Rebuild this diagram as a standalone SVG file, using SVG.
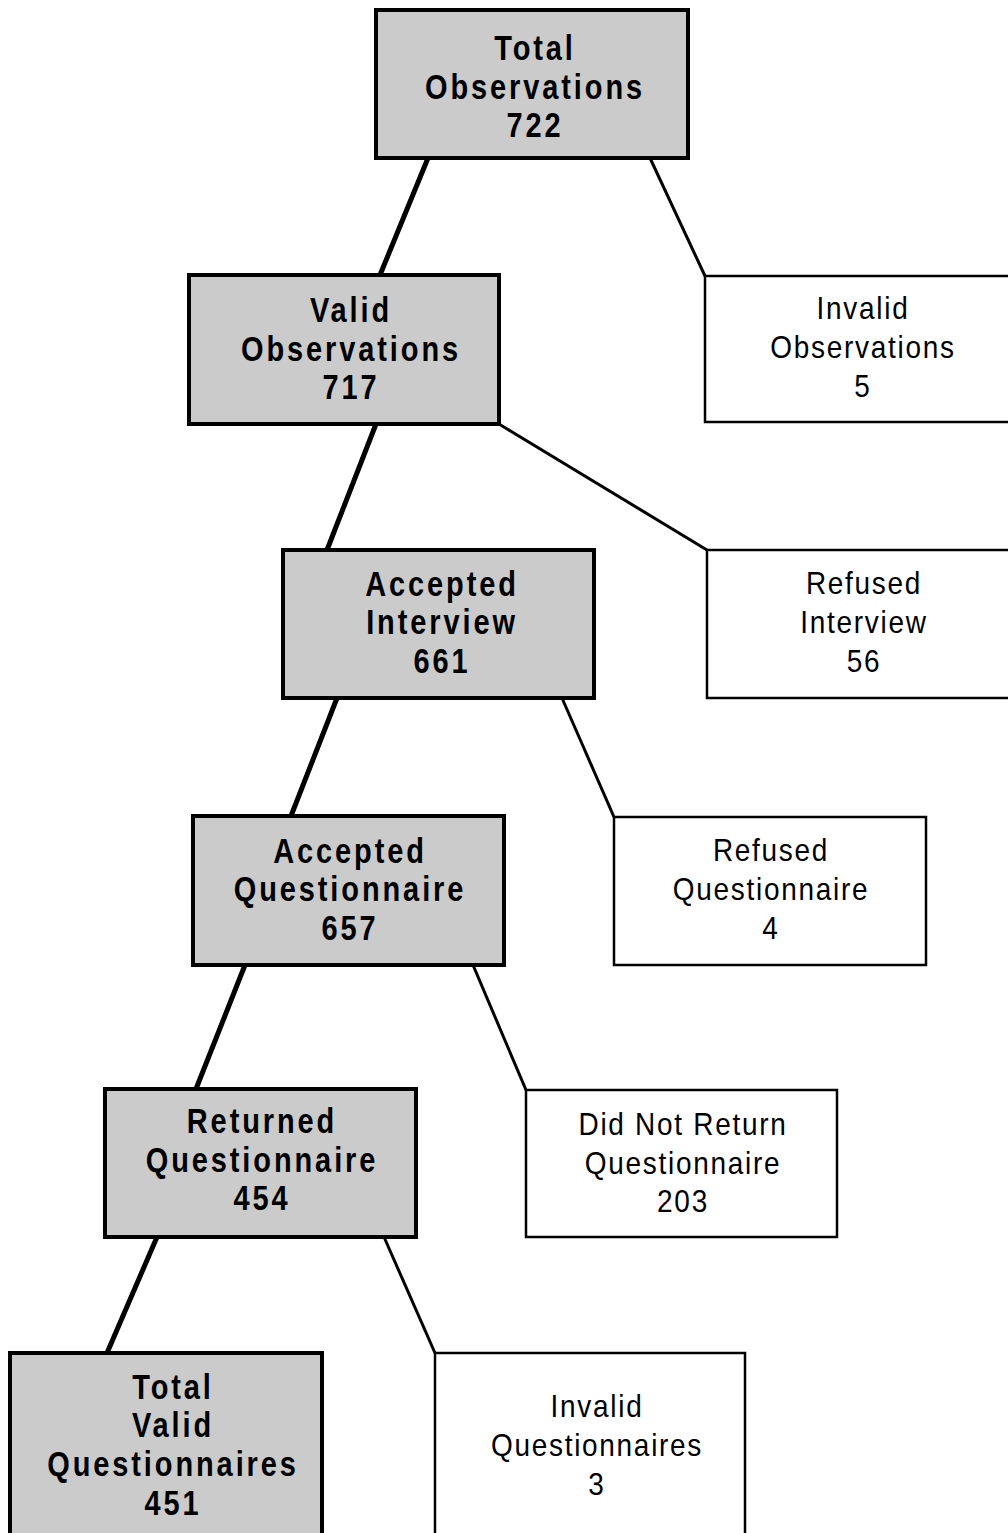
<svg xmlns="http://www.w3.org/2000/svg" width="1008" height="1533" viewBox="0 0 1008 1533">
<style>
.g{fill:#cbcbcb;stroke:#000;stroke-width:4}
.w{fill:#fff;stroke:#000;stroke-width:2.5}
.tb{font-family:"Liberation Sans",Arial,sans-serif;font-weight:bold;font-size:29px;letter-spacing:2.9px;text-anchor:middle;fill:#000}
.tn{font-family:"Liberation Sans",Arial,sans-serif;font-size:28px;letter-spacing:1.7px;text-anchor:middle;fill:#000}
.c1{stroke:#000;stroke-width:5;fill:none}
.c2{stroke:#000;stroke-width:3;fill:none}
</style>
<rect width="1008" height="1533" fill="#fff"/>
<g id="connectors">
<line class="c1" x1="428" y1="158" x2="380" y2="275"/>
<line class="c2" x1="650" y1="158" x2="705" y2="276"/>
<line class="c1" x1="376" y1="424" x2="327" y2="550"/>
<line class="c2" x1="499" y1="424" x2="707" y2="550"/>
<line class="c1" x1="337" y1="698" x2="291" y2="816"/>
<line class="c2" x1="562" y1="698" x2="614" y2="817"/>
<line class="c1" x1="245" y1="965" x2="196" y2="1089"/>
<line class="c2" x1="473" y1="965" x2="526" y2="1090"/>
<line class="c1" x1="157" y1="1237" x2="107" y2="1353"/>
<line class="c2" x1="384" y1="1237" x2="435" y2="1353"/>
</g>
<g id="total-observations">
<rect class="g" x="376" y="10" width="312" height="148"/>
<text class="tb" transform="translate(535,60) scale(1,1.18)">Total</text>
<text class="tb" transform="translate(535,99) scale(1,1.18)">Observations</text>
<text class="tb" transform="translate(535,137) scale(1,1.18)">722</text>
</g>
<g id="valid-observations">
<rect class="g" x="189" y="275" width="310" height="149"/>
<text class="tb" transform="translate(351,322) scale(1,1.18)">Valid</text>
<text class="tb" transform="translate(351,361) scale(1,1.18)">Observations</text>
<text class="tb" transform="translate(351,399) scale(1,1.18)">717</text>
</g>
<g id="invalid-observations">
<rect class="w" x="705" y="276" width="320" height="146"/>
<text class="tn" transform="translate(863,319) scale(1,1.12)">Invalid</text>
<text class="tn" transform="translate(863,358) scale(1,1.12)">Observations</text>
<text class="tn" transform="translate(863,397) scale(1,1.12)">5</text>
</g>
<g id="accepted-interview">
<rect class="g" x="283" y="550" width="311" height="148"/>
<text class="tb" transform="translate(442,596) scale(1,1.18)">Accepted</text>
<text class="tb" transform="translate(442,634) scale(1,1.18)">Interview</text>
<text class="tb" transform="translate(442,673) scale(1,1.18)">661</text>
</g>
<g id="refused-interview">
<rect class="w" x="707" y="550" width="320" height="148"/>
<text class="tn" transform="translate(864,594) scale(1,1.12)">Refused</text>
<text class="tn" transform="translate(864,633) scale(1,1.12)">Interview</text>
<text class="tn" transform="translate(864,672) scale(1,1.12)">56</text>
</g>
<g id="accepted-questionnaire">
<rect class="g" x="193" y="816" width="311" height="149"/>
<text class="tb" transform="translate(350,863) scale(1,1.18)">Accepted</text>
<text class="tb" transform="translate(350,901) scale(1,1.18)">Questionnaire</text>
<text class="tb" transform="translate(350,940) scale(1,1.18)">657</text>
</g>
<g id="refused-questionnaire">
<rect class="w" x="614" y="817" width="312" height="148"/>
<text class="tn" transform="translate(771,861) scale(1,1.12)">Refused</text>
<text class="tn" transform="translate(771,900) scale(1,1.12)">Questionnaire</text>
<text class="tn" transform="translate(771,939) scale(1,1.12)">4</text>
</g>
<g id="returned-questionnaire">
<rect class="g" x="105" y="1089" width="311" height="148"/>
<text class="tb" transform="translate(262,1133) scale(1,1.18)">Returned</text>
<text class="tb" transform="translate(262,1172) scale(1,1.18)">Questionnaire</text>
<text class="tb" transform="translate(262,1210) scale(1,1.18)">454</text>
</g>
<g id="did-not-return">
<rect class="w" x="526" y="1090" width="311" height="147"/>
<text class="tn" transform="translate(683,1135) scale(1,1.12)">Did Not Return</text>
<text class="tn" transform="translate(683,1174) scale(1,1.12)">Questionnaire</text>
<text class="tn" transform="translate(683,1212) scale(1,1.12)">203</text>
</g>
<g id="total-valid-questionnaires">
<rect class="g" x="10" y="1353" width="312" height="190"/>
<text class="tb" transform="translate(173,1399) scale(1,1.18)">Total</text>
<text class="tb" transform="translate(173,1437) scale(1,1.18)">Valid</text>
<text class="tb" transform="translate(173,1476) scale(1,1.18)">Questionnaires</text>
<text class="tb" transform="translate(173,1515) scale(1,1.18)">451</text>
</g>
<g id="invalid-questionnaires">
<rect class="w" x="435" y="1353" width="310" height="190"/>
<text class="tn" transform="translate(597,1417) scale(1,1.12)">Invalid</text>
<text class="tn" transform="translate(597,1456) scale(1,1.12)">Questionnaires</text>
<text class="tn" transform="translate(597,1495) scale(1,1.12)">3</text>
</g>
</svg>
